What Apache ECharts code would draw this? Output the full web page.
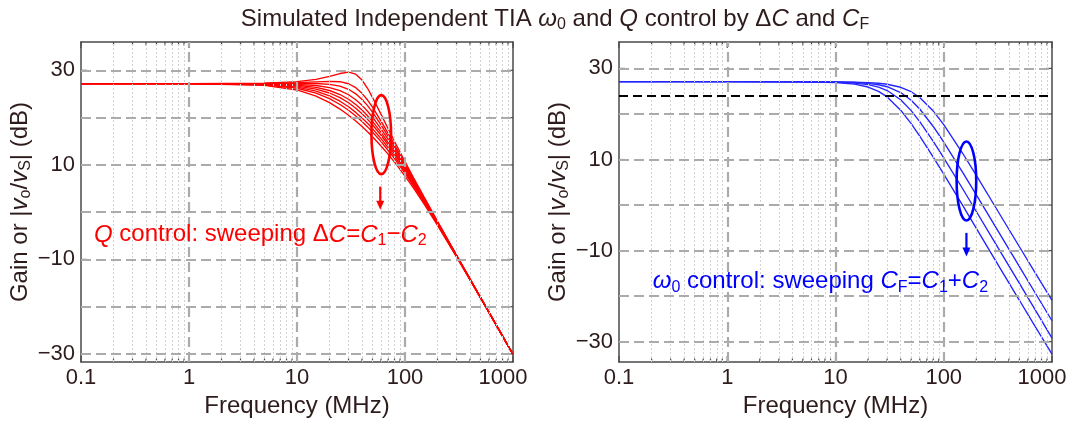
<!DOCTYPE html>
<html>
<head>
<meta charset="utf-8">
<script src="https://cdn.jsdelivr.net/npm/echarts@6/dist/echarts.min.js"></script>
<style>
  html, body { margin: 0; padding: 0; background: #ffffff; }
  #chart { width: 1076px; height: 423px; }
</style>
</head>
<body>
<div id="chart"></div>
<script>
// ---- Q-control family: gain (dB) vs frequency (MHz), one array per ΔC step ----
const freqQ = [0.1, 1, 5, 10, 15, 20, 25, 30, 35, 40, 45, 50, 60, 70, 80, 100, 120, 150, 200, 300, 500, 700, 1000];
const gainQ1 = [27.2, 27.2, 27.30, 27.61, 28.10, 28.72, 29.33, 29.61, 29.19, 27.96, 26.21, 24.30, 20.69, 17.59, 14.96, 10.69, 7.29, 3.23, -1.92, -9.07, -18.00, -23.86, -30.06];
const gainQ2 = [27.2, 27.2, 27.25, 27.39, 27.56, 27.68, 27.60, 27.17, 26.33, 25.14, 23.72, 22.21, 19.27, 16.60, 14.23, 10.24, 7.00, 3.04, -2.02, -9.11, -18.02, -23.87, -30.07];
const gainQ3 = [27.2, 27.2, 27.21, 27.23, 27.21, 27.05, 26.67, 26.00, 25.04, 23.85, 22.53, 21.16, 18.47, 16.00, 13.77, 9.95, 6.79, 2.91, -2.09, -9.15, -18.03, -23.87, -30.07];
const gainQ4 = [27.2, 27.2, 27.16, 27.04, 26.79, 26.36, 25.71, 24.84, 23.78, 22.60, 21.36, 20.09, 17.62, 15.33, 13.23, 9.60, 6.55, 2.75, -2.18, -9.19, -18.04, -23.88, -30.07];
const gainQ5 = [27.2, 27.2, 27.11, 26.85, 26.39, 25.74, 24.89, 23.89, 22.78, 21.61, 20.40, 19.20, 16.89, 14.73, 12.74, 9.26, 6.30, 2.59, -2.28, -9.23, -18.06, -23.89, -30.08];
const gainQ6 = [27.2, 27.2, 27.07, 26.67, 26.04, 25.21, 24.23, 23.14, 21.99, 20.81, 19.64, 18.49, 16.27, 14.21, 12.32, 8.95, 6.08, 2.44, -2.36, -9.27, -18.07, -23.90, -30.08];
const gainQ7 = [27.2, 27.2, 27.00, 26.45, 25.61, 24.59, 23.47, 22.30, 21.11, 19.94, 18.80, 17.68, 15.57, 13.61, 11.80, 8.58, 5.79, 2.25, -2.48, -9.32, -18.09, -23.91, -30.09];
const gainQ8 = [27.2, 27.2, 26.94, 26.22, 25.19, 24.02, 22.78, 21.55, 20.34, 19.17, 18.04, 16.96, 14.93, 13.05, 11.31, 8.21, 5.51, 2.05, -2.60, -9.38, -18.11, -23.92, -30.09];
const gainQ9 = [27.2, 27.2, 26.82, 25.85, 24.56, 23.18, 21.81, 20.51, 19.27, 18.10, 17.00, 15.95, 14.01, 12.23, 10.58, 7.64, 5.07, 1.73, -2.79, -9.47, -18.15, -23.94, -30.10];

// ---- ω0-control family: gain (dB) vs frequency (MHz), one array per CF step ----
const freqW = [0.1, 1, 5, 10, 15, 20, 25, 30, 40, 50, 60, 80, 100, 150, 200, 300, 500, 700, 1000];
const gainW1 = [27.1, 27.1, 27.06, 26.90, 26.55, 25.92, 24.97, 23.74, 20.84, 17.88, 15.15, 10.52, 6.78, -0.14, -5.11, -12.13, -20.90, -26.70, -32.70];
const gainW2 = [27.1, 27.1, 27.07, 26.98, 26.78, 26.43, 25.89, 25.14, 23.11, 20.73, 18.33, 14.00, 10.37, 3.53, -1.41, -8.42, -17.20, -23.00, -29.20];
const gainW3 = [27.1, 27.1, 27.08, 27.02, 26.91, 26.71, 26.41, 25.98, 24.71, 23.01, 21.09, 17.25, 13.82, 7.14, 2.24, -4.74, -13.50, -19.30, -25.40];
const gainW4 = [27.1, 27.1, 27.09, 27.06, 26.99, 26.89, 26.74, 26.52, 25.86, 24.88, 23.61, 20.64, 17.65, 11.32, 6.51, -0.42, -9.15, -14.90, -20.90];
const bandwidthLevel = 24.1;   // −3 dB reference below the 27.1 dB passband

// ---- axes ----
const freqRange = [0.1, 1000];
const gainRangeQ = [-31.7, 36.0];
const gainRangeW = [-34.45, 35.8];
const gainTickLabels = [-30, -10, 10, 30];
const gainGridValues = [-30, -20, -10, 0, 10, 20, 30];
const freqMajorGrid = [1, 10, 100];
const freqMajorTicks = [0.1, 1, 10, 100, 1000];
const freqMinorTicks = [0.2, 0.3, 0.4, 0.5, 0.6, 0.7, 0.8, 0.9, 2, 3, 4, 5, 6, 7, 8, 9,
                        20, 30, 40, 50, 60, 70, 80, 90, 200, 300, 400, 500, 600, 700, 800, 900];

// ---- annotations (data coordinates) ----
const ellipseQ = [60.3, 16.4];
const arrowQ = [59, 5.4, 0.5];          // frequency, tail dB, tip dB
const noteQ = [0.132, -4.8];
const ellipseW = [162, 5.3];
const arrowW = [162, -6.1, -11.3];
const noteW = [0.205, -16.8];

const FONT = "'Liberation Sans', Arial, Helvetica, sans-serif";
const INK = '#2e1c1c';
const RED = '#ff0000';
const BLUE = '#2424ff';

const chart = echarts.init(document.getElementById('chart'), null, { renderer: 'canvas' });

function fmtFreq(v) {
  const n = Number(v.toPrecision(6));
  if (n >= 1000) return '{last|1000}';
  return String(n);
}
function fmtGain(v) {
  return v < 0 ? '\u2212' + Math.abs(v) : String(v);
}

function bottomX(gridIndex) {
  return {
    type: 'log', logBase: 10, gridIndex, min: freqRange[0], max: freqRange[1],
    axisLine: { show: true, onZero: false, lineStyle: { color: '#4a4a4a', width: 1.5 } },
    axisTick: { show: false },
    splitLine: { show: false },
    minorTick: { show: false },
    axisLabel: {
      show: true, color: INK, fontSize: 22, fontFamily: FONT, margin: 5,
      formatter: fmtFreq,
      rich: { last: { fontSize: 22, fontFamily: FONT, color: INK, padding: [0, 20, 0, 0] } }
    },
    name: 'Frequency (MHz)', nameLocation: 'middle', nameGap: 26,
    nameTextStyle: { color: INK, fontSize: 24, fontFamily: FONT }
  };
}
function topX(gridIndex) {
  return {
    type: 'log', logBase: 10, gridIndex, min: freqRange[0], max: freqRange[1], position: 'top',
    axisLine: { show: true, onZero: false, lineStyle: { color: '#4a4a4a', width: 1.5 } },
    axisTick: { show: false }, axisLabel: { show: false }, splitLine: { show: false }
  };
}
const yName = 'Gain or |{i|v}{sub|o}/{i|v}{sub|S}| (dB)';
const yRich = {
  i: { fontStyle: 'italic', fontSize: 24, fontFamily: FONT, color: INK },
  sub: { fontSize: 16, fontFamily: FONT, color: INK, padding: [11, 0, 0, 0] }
};
function leftY(gridIndex, range) {
  return {
    type: 'value', gridIndex, min: range[0], max: range[1],
    axisLine: { show: true, onZero: false, lineStyle: { color: '#4a4a4a', width: 1.5 } },
    axisTick: { show: false },
    splitLine: { show: false },
    axisLabel: {
      show: true, color: INK, fontSize: 22, fontFamily: FONT, margin: 6,
      customValues: gainTickLabels, formatter: fmtGain
    },
    name: yName, nameLocation: 'middle', nameRotate: 90, nameGap: 47,
    nameTextStyle: { color: INK, fontSize: 24, fontFamily: FONT, rich: yRich }
  };
}
function rightY(gridIndex, range) {
  return {
    type: 'value', gridIndex, min: range[0], max: range[1], position: 'right',
    axisLine: { show: true, onZero: false, lineStyle: { color: '#4a4a4a', width: 1.5 } },
    axisTick: { show: false }, axisLabel: { show: false }, splitLine: { show: false }
  };
}

// dashed major grid + faint minor grid, drawn as mark lines on an empty helper series
function gridSeries(axisIdx) {
  const major = { color: '#ababab', width: 2.2, type: [10, 5] };
  const minor = { color: '#d2d2d2', width: 1, type: [2, 2] };
  const data = [];
  freqMinorTicks.forEach(f => data.push({ xAxis: f, lineStyle: minor }));
  freqMajorGrid.forEach(f => data.push({ xAxis: f, lineStyle: major }));
  gainGridValues.forEach(g => data.push({ yAxis: g, lineStyle: major }));
  return {
    type: 'line', xAxisIndex: axisIdx, yAxisIndex: axisIdx, data: [], z: 1, silent: true,
    markLine: { silent: true, symbol: ['none', 'none'], label: { show: false }, animation: false, data }
  };
}

// inward tick marks on all four sides of a frame
function tickSeries(axisIdx, yRange) {
  const data = [];
  freqMajorTicks.forEach(f => data.push([f, yRange[0], 0]));
  freqMinorTicks.forEach(f => data.push([f, yRange[0], 1]));
  gainGridValues.forEach(g => data.push([freqRange[0], g, 2]));
  return {
    type: 'custom', xAxisIndex: axisIdx, yAxisIndex: axisIdx, z: 4, silent: true,
    data,
    renderItem(params, api) {
      const kind = api.value(2);
      const st = { stroke: '#4a4a4a', lineWidth: 1.2 };
      if (kind === 2) {
        const a = api.coord([freqRange[0], api.value(1)]);
        const b = api.coord([freqRange[1], api.value(1)]);
        return { type: 'group', children: [
          { type: 'line', shape: { x1: a[0], y1: a[1], x2: a[0] + 6, y2: a[1] }, style: st },
          { type: 'line', shape: { x1: b[0], y1: b[1], x2: b[0] - 6, y2: b[1] }, style: st }
        ] };
      }
      const len = kind === 0 ? 6 : 3.5;
      const a = api.coord([api.value(0), yRange[0]]);
      const b = api.coord([api.value(0), yRange[1]]);
      return { type: 'group', children: [
        { type: 'line', shape: { x1: a[0], y1: a[1], x2: a[0], y2: a[1] - len }, style: st },
        { type: 'line', shape: { x1: b[0], y1: b[1], x2: b[0], y2: b[1] + len }, style: st }
      ] };
    }
  };
}

function curve(axisIdx, freqs, gains, color) {
  return {
    type: 'line', xAxisIndex: axisIdx, yAxisIndex: axisIdx, z: 3, silent: true,
    data: freqs.map((f, i) => [f, gains[i]]),
    showSymbol: false, smooth: false,
    lineStyle: { color, width: 1.35 }
  };
}

// ellipse around the swept curves, with an arrow underneath
function markerSeries(axisIdx, ell, arr, color) {
  return {
    type: 'custom', xAxisIndex: axisIdx, yAxisIndex: axisIdx, z: 5, silent: true,
    data: [[ell[0], ell[1]]],
    renderItem(params, api) {
      const c = api.coord([ell[0], ell[1]]);
      const t = api.coord([arr[0], arr[1]]);
      const h = api.coord([arr[0], arr[2]]);
      return { type: 'group', children: [
        { type: 'ellipse', shape: { cx: c[0], cy: c[1], rx: 9.8, ry: 39.5 },
          style: { fill: 'none', stroke: color, lineWidth: 2.6 } },
        { type: 'line', shape: { x1: t[0], y1: t[1], x2: h[0], y2: h[1] - 7 },
          style: { stroke: color, lineWidth: 2.2 } },
        { type: 'polygon', shape: { points: [[h[0] - 4, h[1] - 9], [h[0] + 4, h[1] - 9], [h[0], h[1]]] },
          style: { fill: color } }
      ] };
    }
  };
}

function noteSeries(axisIdx, pos, text, color) {
  const base = { fontSize: 24, fontFamily: FONT, fill: color };
  return {
    type: 'custom', xAxisIndex: axisIdx, yAxisIndex: axisIdx, z: 5, silent: true,
    data: [[pos[0], pos[1]]],
    renderItem(params, api) {
      const p = api.coord([pos[0], pos[1]]);
      return {
        type: 'text', x: p[0], y: p[1],
        style: Object.assign({}, base, {
          text, align: 'left', verticalAlign: 'middle',
          rich: {
            i: Object.assign({}, base, { fontStyle: 'italic' }),
            sub: { fontSize: 16, fontFamily: FONT, fill: color, padding: [11, 0, 0, 0] }
          }
        })
      };
    }
  };
}

const option = {
  animation: false,
  backgroundColor: '#ffffff',
  title: {
    text: 'Simulated Independent TIA {i|\u03c9}{sub|0} and {i|Q} control by \u0394{i|C} and {i|C}{sub|F}',
    left: 550, top: 1, textAlign: 'center',
    textStyle: {
      color: INK, fontSize: 24, fontWeight: 'normal', fontFamily: FONT,
      rich: {
        i: { fontStyle: 'italic', fontSize: 24, fontFamily: FONT, color: INK },
        sub: { fontSize: 16, fontFamily: FONT, color: INK, padding: [11, 0, 0, 0] }
      }
    }
  },
  grid: [
    { left: 81, top: 42, width: 432, height: 320 },
    { left: 619, top: 42, width: 433, height: 320 }
  ],
  xAxis: [bottomX(0), topX(0), bottomX(1), topX(1)],
  yAxis: [leftY(0, gainRangeQ), rightY(0, gainRangeQ), leftY(1, gainRangeW), rightY(1, gainRangeW)],
  series: [
    gridSeries(0),
    gridSeries(2),
    {
      type: 'line', xAxisIndex: 2, yAxisIndex: 2, data: [], z: 2, silent: true,
      markLine: { silent: true, symbol: ['none', 'none'], label: { show: false }, animation: false,
        data: [{ yAxis: bandwidthLevel, lineStyle: { color: '#000000', width: 2, type: [9, 5] } }] }
    },
    tickSeries(0, gainRangeQ),
    tickSeries(2, gainRangeW),
    curve(0, freqQ, gainQ1, RED),
    curve(0, freqQ, gainQ2, RED),
    curve(0, freqQ, gainQ3, RED),
    curve(0, freqQ, gainQ4, RED),
    curve(0, freqQ, gainQ5, RED),
    curve(0, freqQ, gainQ6, RED),
    curve(0, freqQ, gainQ7, RED),
    curve(0, freqQ, gainQ8, RED),
    curve(0, freqQ, gainQ9, RED),
    curve(2, freqW, gainW1, BLUE),
    curve(2, freqW, gainW2, BLUE),
    curve(2, freqW, gainW3, BLUE),
    curve(2, freqW, gainW4, BLUE),
    markerSeries(0, ellipseQ, arrowQ, RED),
    markerSeries(2, ellipseW, arrowW, '#0000ff'),
    noteSeries(0, noteQ, '{i|Q} control: sweeping \u0394{i|C}={i|C}{sub|1}\u2212{i|C}{sub|2}', RED),
    noteSeries(2, noteW, '{i|\u03c9}{sub|0} control: sweeping {i|C}{sub|F}={i|C}{sub|1}+{i|C}{sub|2}', '#0000ff')
  ]
};

chart.setOption(option);
</script>
</body>
</html>
